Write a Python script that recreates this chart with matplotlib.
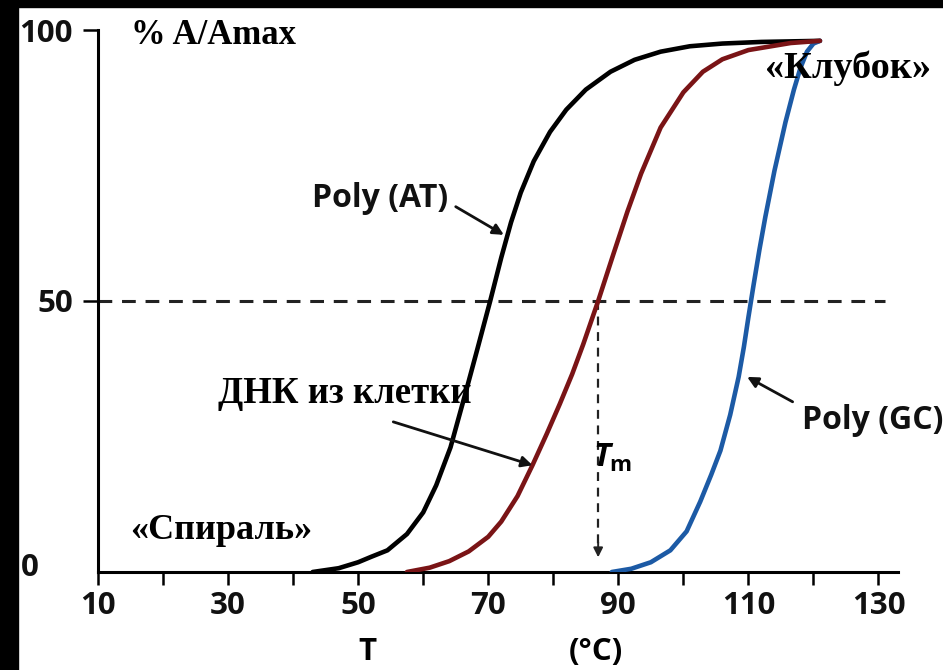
import numpy as np
import matplotlib.pyplot as plt
from matplotlib.patches import Rectangle

# Melting curves: temperature (°C) vs % A/Amax
AT_T = [43, 47, 50, 52, 54.5, 57.5, 60, 62, 64.2, 66.5, 68.3, 70.3, 72, 73.5,
        75, 77, 79.5, 82, 85, 88.8, 92.5, 96.5, 101, 106, 112, 121]
AT_V = [0, 0.7, 1.8, 2.8, 4, 7, 11, 16, 23, 33, 41, 50, 58, 64.5,
        70, 75.8, 81.2, 85.3, 89, 92.3, 94.5, 96, 97, 97.5, 97.8, 98]

DNA_T = [57.5, 61, 64, 67, 70, 72, 74.5, 76.8, 79, 81, 82.9, 84.6, 86.9,
         89.2, 91.4, 93.5, 96.5, 100, 103, 106, 110, 116.5, 121]
DNA_V = [0, 0.8, 2, 3.8, 6.5, 9.3, 14, 19.7, 25.5, 31, 36.5, 42, 50,
         58.5, 66.5, 73.5, 82, 88.5, 92.3, 94.6, 96.3, 97.6, 98]

GC_T = [89, 92, 95, 98, 100.5, 102.6, 104.3, 105.7, 107.2, 108.5, 109.3, 110,
        110.8, 111.7, 112.6, 114, 115.7, 117, 118, 119, 120, 121]
GC_V = [0, 0.6, 1.8, 4, 7.5, 13, 18, 22.4, 29, 36, 41.5, 47,
        53, 59.5, 65.5, 74, 83, 89, 93, 96, 97.5, 98]

HALF = 50
TM = 86.9

X_TICKS = list(range(10, 131, 10))
X_LABELS = [str(t) if (t - 10) % 20 == 0 else "" for t in X_TICKS]
Y_TICKS = [50, 100]

SANS = "Open Sans"
SERIF = "Liberation Serif"
plt.rcParams["mathtext.fontset"] = "custom"
plt.rcParams["mathtext.rm"] = "Open Sans:bold"
plt.rcParams["mathtext.it"] = "Open Sans:italic:bold"

fig = plt.figure(figsize=(9.43, 6.70), dpi=100)
ax = fig.add_axes([98 / 943, 1 - 572 / 670, 800 / 943, 542 / 670])

# black frame strips on the left and top of the scanned picture
fig.add_artist(Rectangle((0, 0), 18 / 943, 1, transform=fig.transFigure,
                         color="black", zorder=10))
fig.add_artist(Rectangle((0, 1 - 7 / 670), 1, 7 / 670, transform=fig.transFigure,
                         color="black", zorder=10))

ax.plot([10, 131], [HALF, HALF], color="#222222", lw=2.2, ls=(0, (4.5, 3.2)),
        zorder=1)
ax.plot([TM, TM], [HALF, 5], color="#222222", lw=1.6, ls=(0, (4, 3)), zorder=1)
ax.annotate("", xy=(TM, 2.2), xytext=(TM, 6),
            arrowprops=dict(arrowstyle="-|>", color="#222222", lw=1.4,
                            mutation_scale=14))

kw = dict(lw=3.3, solid_capstyle="round", solid_joinstyle="round", zorder=3)
ax.plot(AT_T, AT_V, color="black", **kw)
ax.plot(GC_T, GC_V, color="#1c5aa5", **kw)
ax.plot(DNA_T, DNA_V, color="#7a1416", **kw)

ax.set_xlim(10, 133)
ax.set_ylim(0, 100)
for s in ("top", "right"):
    ax.spines[s].set_visible(False)
for s in ("left", "bottom"):
    ax.spines[s].set_linewidth(2.2)
ax.spines["left"].set_bounds(0, 100)

ax.set_xticks(X_TICKS)
ax.set_xticklabels(X_LABELS)
ax.set_yticks(Y_TICKS)
ax.set_yticklabels([str(v) for v in Y_TICKS])
ax.tick_params(axis="x", length=9.5, width=1.8, pad=4)
ax.tick_params(axis="y", length=11, width=1.8, pad=7)
for lab in ax.get_xticklabels() + ax.get_yticklabels():
    lab.set_fontfamily(SANS)
    lab.set_fontweight("bold")
    lab.set_fontsize(22.5)
    lab.set_color("#111111")

ax.text(-0.5, 0.8, "0", ha="center", va="center", fontsize=22.5,
        fontfamily=SANS, fontweight="bold", color="#111111", clip_on=False)
ax.text(51.5, -14.8, "T", ha="center", va="center", fontsize=22.5,
        fontfamily=SANS, fontweight="bold", clip_on=False)
ax.text(86.5, -14.8, "(°C)", ha="center", va="center", fontsize=22.5,
        fontfamily=SANS, fontweight="bold", clip_on=False)

serif = dict(fontfamily=SERIF, fontweight="bold", color="black",
             va="center", ha="left", zorder=5)
ax.text(15, 99, "% A/Amax", fontsize=25, **serif)
ax.text(112.5, 93, "«Клубок»", fontsize=27.5, **serif)
ax.text(14.9, 7.7, "«Спираль»", fontsize=26, **serif)
ax.text(28.5, 33, "ДНК из клетки", fontsize=26.5, **serif)

sans = dict(fontfamily=SANS, fontweight="bold", fontsize=23, color="#111111",
            va="center", ha="left")
ax.text(42.9, 69, "Poly (AT)", **sans)
ax.text(118.3, 28, "Poly (GC)", **sans)
ax.text(89.2, 21, r"$T_{\mathrm{m}}$", fontsize=23, ha="center",
        va="center")

arrow = dict(arrowstyle="-|>", color="#111111", lw=2.0, mutation_scale=16,
             shrinkA=0, shrinkB=0)
ax.annotate("", xy=(72.4, 62.2), xytext=(65, 67.4), arrowprops=arrow)
ax.annotate("", xy=(109.8, 36), xytext=(116.8, 31.4), arrowprops=arrow)
ax.annotate("", xy=(76.8, 19.7), xytext=(55.4, 27.7), arrowprops=arrow)

fig.savefig("out.png", dpi=100)
